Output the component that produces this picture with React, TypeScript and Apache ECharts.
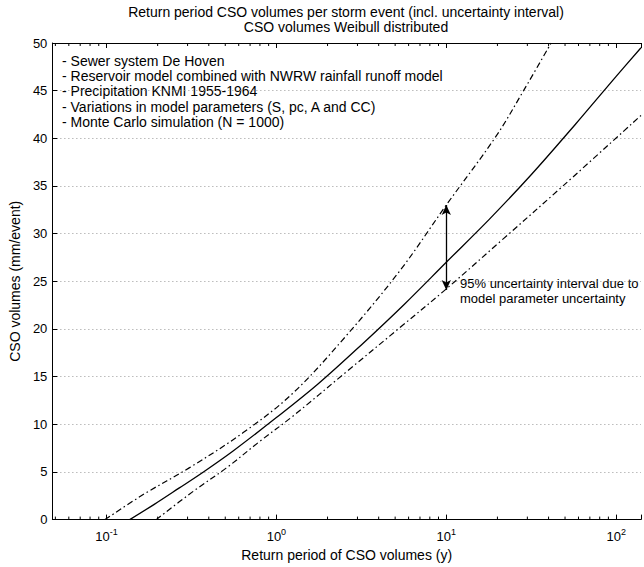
import React, { useEffect, useRef } from 'react';
import * as echarts from 'echarts';

// Return period (years) and CSO volume (mm/event)
const medianT = [0.137, 0.191, 0.267, 0.372, 0.556, 1.0, 1.75, 3.15, 5.67, 10, 17.9, 31.7, 57.1, 100, 140];
const medianV = [0, 1.6, 3.3, 5.0, 7.2, 10.7, 14.2, 18.3, 22.6, 27.0, 31.5, 36.2, 41.4, 46.5, 49.5];

const upperT = [0.098, 0.167, 0.305, 0.635, 1.24, 2.58, 5.38, 10, 19.6, 28.5, 41.4];
const upperV = [0, 2.7, 5.4, 9.1, 13.2, 19.3, 26.2, 33.0, 40.2, 45, 50];

const lowerT = [0.196, 0.326, 0.506, 0.797, 1.24, 2.58, 5.38, 10, 21.8, 48.6, 140];
const lowerV = [0, 3.0, 5.4, 8.2, 10.8, 15.5, 20.2, 24.2, 29.5, 35, 42.4];

const decadeTicks = [0.1, 1, 10, 100];
const minorTicks = [
  0.05, 0.06, 0.07, 0.08, 0.09,
  0.2, 0.3, 0.4, 0.5, 0.6, 0.7, 0.8, 0.9,
  2, 3, 4, 5, 6, 7, 8, 9,
  20, 30, 40, 50, 60, 70, 80, 90,
];

const arrowT = 10;
const arrowLow = 24.1;
const arrowHigh = 33.0;

const titleLines = [
  'Return period CSO volumes per storm event (incl. uncertainty interval)',
  'CSO volumes Weibull distributed',
];
const notes = [
  '- Sewer system De Hoven',
  '- Reservoir model combined with NWRW rainfall runoff model',
  '- Precipitation KNMI 1955-1964',
  '- Variations in model parameters (S, pc, A and CC)',
  '- Monte Carlo simulation (N = 1000)',
];
const arrowNote = ['95% uncertainty interval due to', 'model parameter uncertainty'];

const FONT = '"Liberation Sans", Arial, Helvetica, sans-serif';

const zip = (a: number[], b: number[]) => a.map((v, i) => [v, b[i]]);

function textEl(text: string, x: number, y: number, size: number, align: string) {
  return {
    type: 'text',
    x,
    y,
    silent: true,
    style: {
      text,
      fill: '#000',
      font: `${size}px ${FONT}`,
      fontSize: size,
      fontFamily: FONT,
      textAlign: align,
      align,
      textVerticalAlign: 'middle',
      verticalAlign: 'middle',
    },
  };
}

export default function App() {
  const ref = useRef<HTMLDivElement>(null);

  useEffect(() => {
    if (!ref.current) return;
    const chart = echarts.init(ref.current, undefined, { renderer: 'svg' });

    const xLabelFormatter = (v: number) => {
      const l = Math.log10(v);
      const e = Math.round(l);
      if (Math.abs(l - e) > 1e-6) return '';
      if (!decadeTicks.some((d) => Math.abs(Math.log10(d) - e) < 1e-6)) return '';
      return `{b|10}{s|${e}}`;
    };

    const baseXAxis = {
      type: 'log',
      logBase: 10,
      min: 0.048,
      max: 140,
      splitLine: { show: false },
      axisLine: { show: true, lineStyle: { color: '#000', width: 1 } },
      axisTick: { show: true, inside: true, length: 5, lineStyle: { color: '#000', width: 1 } },
    };

    const option: any = {
      animation: false,
      textStyle: { fontFamily: FONT },
      grid: { left: 48, top: 43, right: 0, bottom: 45.5, containLabel: false },
      xAxis: [
        {
          ...baseXAxis,
          position: 'bottom',
          axisLabel: {
            formatter: xLabelFormatter,
            color: '#000',
            margin: 8,
            rich: {
              b: { fontSize: 13, fontFamily: FONT, color: '#000' },
              s: { fontSize: 9, fontFamily: FONT, color: '#000', padding: [0, 0, 9, 0] },
            },
          },
          name: 'Return period of CSO volumes (y)',
          nameLocation: 'middle',
          nameGap: 24,
          nameTextStyle: { color: '#000', fontSize: 14, fontFamily: FONT },
        },
        {
          ...baseXAxis,
          position: 'top',
          axisLabel: { show: false },
        },
      ],
      yAxis: {
        type: 'value',
        min: 0,
        max: 50,
        interval: 5,
        axisLine: { show: true, lineStyle: { color: '#000', width: 1 } },
        axisTick: { show: true, inside: true, length: 5, lineStyle: { color: '#000' } },
        axisLabel: { color: '#000', fontSize: 13, margin: 5, fontFamily: FONT },
        splitLine: { show: true, lineStyle: { color: '#999', width: 1, type: [1, 3] } },
        name: 'CSO volumes (mm/event)',
        nameLocation: 'middle',
        nameGap: 28,
        nameRotate: 90,
        nameTextStyle: { color: '#000', fontSize: 14, fontFamily: FONT },
      },
      series: [
        {
          type: 'custom',
          xAxisIndex: 0,
          yAxisIndex: 0,
          silent: true,
          clip: false,
          data: minorTicks.map((v) => [v, 0]),
          renderItem: (params: any, api: any) => {
            const v = api.value(0);
            const b = api.coord([v, 0]);
            const t = api.coord([v, 50]);
            return {
              type: 'group',
              children: [
                { type: 'line', shape: { x1: b[0], y1: b[1], x2: b[0], y2: b[1] - 3 }, style: { stroke: '#000', lineWidth: 1 } },
                { type: 'line', shape: { x1: t[0], y1: t[1], x2: t[0], y2: t[1] + 3 }, style: { stroke: '#000', lineWidth: 1 } },
              ],
            };
          },
        },
        {
          name: 'median',
          type: 'line',
          data: zip(medianT, medianV),
          symbol: 'none',
          smooth: 0.35,
          lineStyle: { color: '#000', width: 1.3, type: 'solid' },
          markLine: {
            silent: true,
            symbol: ['arrow', 'arrow'],
            symbolSize: [7, 10],
            label: { show: false },
            lineStyle: { color: '#000', width: 1.3, type: 'solid' },
            data: [[{ coord: [arrowT, arrowLow] }, { coord: [arrowT, arrowHigh] }]],
          },
        },
        {
          name: 'upper',
          type: 'line',
          data: zip(upperT, upperV),
          symbol: 'none',
          smooth: 0.35,
          lineStyle: { color: '#000', width: 1.2, type: [6, 3, 1.5, 3] },
        },
        {
          name: 'lower',
          type: 'line',
          data: zip(lowerT, lowerV),
          symbol: 'none',
          smooth: 0.35,
          lineStyle: { color: '#000', width: 1.2, type: [6, 3, 1.5, 3] },
        },
      ],
      graphic: [
        textEl(titleLines[0], 346, 12, 14, 'center'),
        textEl(titleLines[1], 346, 27, 14, 'center'),
        ...notes.map((n, i) => textEl(n, 62, 61 + i * 15.2, 14, 'left')),
        ...arrowNote.map((n, i) => textEl(n, 460, 283 + i * 15, 13, 'left')),
      ],
    };

    chart.setOption(option);
    return () => chart.dispose();
  }, []);

  return (
    <div style={{ position: 'absolute', left: 0, top: 0, width: 644, height: 567, overflow: 'hidden', background: '#fff' }}>
      <div ref={ref} style={{ width: 644, height: 567 }} />
    </div>
  );
}
